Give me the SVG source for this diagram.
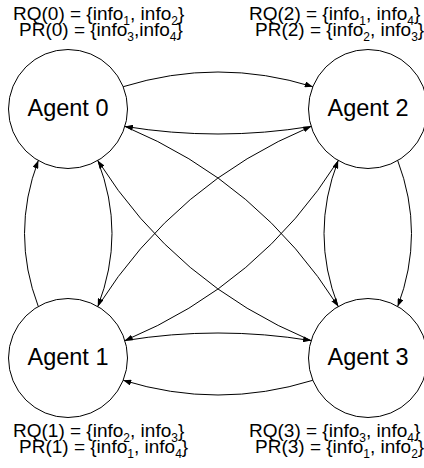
<svg xmlns="http://www.w3.org/2000/svg" width="424" height="468" viewBox="0 0 424 468">
  <style>
    .node circle { fill: #ffffff; stroke: #000000; stroke-width: 1; }
    .node text { font-family: "Liberation Sans", Arial, Helvetica, sans-serif; font-size: 23.5px; text-anchor: middle; fill: #000000; }
    .edge { fill: none; stroke: #000000; stroke-width: 1; marker-end: url(#arrow); }
    .set { font-family: "Liberation Sans", Arial, Helvetica, sans-serif; font-size: 19px; fill: #000000; }
    .sub { font-size: 12px; }
  </style>
  <defs>
    <marker id="arrow" viewBox="0 0 8 6" refX="8" refY="3" markerWidth="8" markerHeight="6" orient="auto" markerUnits="userSpaceOnUse">
      <path d="M0,0 L8,3 L0,6 z" fill="#000000"/>
    </marker>
  </defs>
  <rect x="0" y="0" width="424" height="468" fill="#ffffff"/>

  <!-- agents -->
  <g id="agent0" class="node">
    <circle cx="68" cy="109" r="59.5"/>
    <text x="68" y="116">Agent 0</text>
  </g>
  <g id="agent2" class="node">
    <circle cx="368" cy="109" r="59.5"/>
    <text x="368" y="116">Agent 2</text>
  </g>
  <g id="agent1" class="node">
    <circle cx="68" cy="358" r="59.5"/>
    <text x="68" y="365">Agent 1</text>
  </g>
  <g id="agent3" class="node">
    <circle cx="368" cy="358" r="59.5"/>
    <text x="368" y="365">Agent 3</text>
  </g>

  <!-- directed links between every pair of agents -->
  <g id="connectors">
    <!-- 0 <-> 2 -->
    <path class="edge" d="M123.2,86.7 Q218,57.3 312.8,86.7"/>
    <path class="edge" d="M311.1,126.4 Q218,141.6 124.9,126.4"/>
    <!-- 1 <-> 3 -->
    <path class="edge" d="M312.8,380.3 Q218,409.7 123.2,380.3"/>
    <path class="edge" d="M124.9,340.6 Q218,325.4 311.1,340.6"/>
    <!-- 0 <-> 1 -->
    <path class="edge" d="M38.3,306.5 Q10.7,233.5 38.3,160.5"/>
    <path class="edge" d="M97.8,160.5 Q126.2,233.5 97.8,306.5"/>
    <!-- 2 <-> 3 -->
    <path class="edge" d="M397.7,160.5 Q425.3,233.5 397.7,306.5"/>
    <path class="edge" d="M338.2,306.5 Q309.8,233.5 338.2,160.5"/>
    <!-- 0 <-> 3 -->
    <path class="edge" d="M124.9,126.4 Q260,182.8 338.2,306.5"/>
    <path class="edge" d="M311.1,340.6 Q176,284.2 97.8,160.5"/>
    <!-- 1 <-> 2 -->
    <path class="edge" d="M97.8,306.5 Q176,182.8 311.1,126.4"/>
    <path class="edge" d="M338.2,160.5 Q260,284.2 124.9,340.6"/>
  </g>

  <!-- request / provide sets -->
  <g id="sets0">
    <text class="set" x="13" y="20">RQ(0) = {info<tspan class="sub" dy="4.5">1</tspan><tspan dy="-4.5">, info</tspan><tspan class="sub" dy="4.5">2</tspan><tspan dy="-4.5">}</tspan></text>
    <text class="set" x="19" y="36">PR(0) = {info<tspan class="sub" dy="4.5">3</tspan><tspan dy="-4.5">,info</tspan><tspan class="sub" dy="4.5">4</tspan><tspan dy="-4.5">}</tspan></text>
  </g>
  <g id="sets2">
    <text class="set" x="249" y="20">RQ(2) = {info<tspan class="sub" dy="4.5">1</tspan><tspan dy="-4.5">, info</tspan><tspan class="sub" dy="4.5">4</tspan><tspan dy="-4.5">}</tspan></text>
    <text class="set" x="255" y="36">PR(2) = {info<tspan class="sub" dy="4.5">2</tspan><tspan dy="-4.5">, info</tspan><tspan class="sub" dy="4.5">3</tspan><tspan dy="-4.5">}</tspan></text>
  </g>
  <g id="sets1">
    <text class="set" x="13" y="437">RQ(1) = {info<tspan class="sub" dy="4.5">2</tspan><tspan dy="-4.5">, info</tspan><tspan class="sub" dy="4.5">3</tspan><tspan dy="-4.5">}</tspan></text>
    <text class="set" x="19" y="453">PR(1) = {info<tspan class="sub" dy="4.5">1</tspan><tspan dy="-4.5">, info</tspan><tspan class="sub" dy="4.5">4</tspan><tspan dy="-4.5">}</tspan></text>
  </g>
  <g id="sets3">
    <text class="set" x="249" y="437">RQ(3) = {info<tspan class="sub" dy="4.5">3</tspan><tspan dy="-4.5">, info</tspan><tspan class="sub" dy="4.5">4</tspan><tspan dy="-4.5">}</tspan></text>
    <text class="set" x="255" y="453">PR(3) = {info<tspan class="sub" dy="4.5">1</tspan><tspan dy="-4.5">, info</tspan><tspan class="sub" dy="4.5">2</tspan><tspan dy="-4.5">}</tspan></text>
  </g>
</svg>
